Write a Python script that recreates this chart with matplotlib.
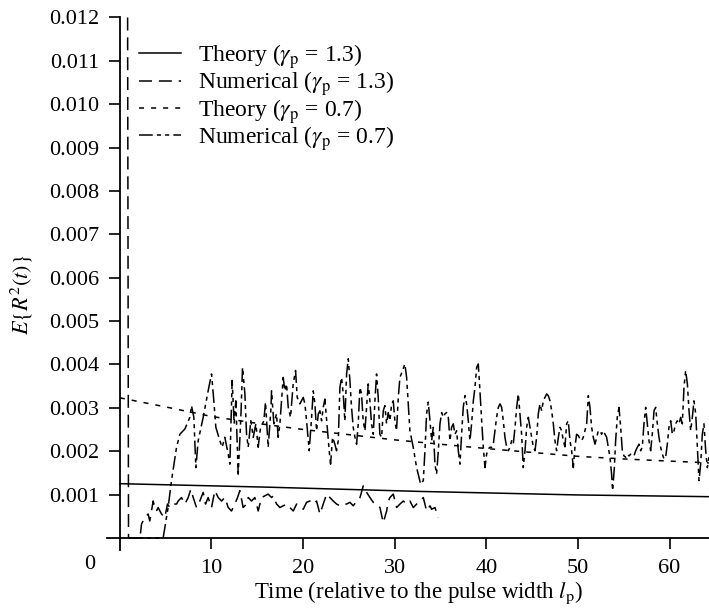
import numpy as np
import matplotlib
matplotlib.use("Agg")
import matplotlib.pyplot as plt

plt.rcParams['font.family'] = ['Liberation Serif', 'DejaVu Serif']
plt.rcParams['mathtext.fontset'] = 'stix'

# values are in units of 0.001

# Theory, gamma_p = 1.3 (solid)
theory13_t = [0, 16, 33, 50, 64.3]
theory13_v = [1.25, 1.17, 1.07, 0.99, 0.95]

# Theory, gamma_p = 0.7 (short dashes)
theory07_t = [0, 5, 10, 15, 20, 25, 30, 35, 40, 45, 50, 55, 60, 64.3]
theory07_v = [3.23, 3.02, 2.80, 2.64, 2.50, 2.38, 2.26, 2.16, 2.06, 1.97, 1.88, 1.82, 1.77, 1.73]

# Numerical, gamma_p = 1.3 (long dashes)
num13_t = [0.85, 0.95, 2.2, 2.37, 2.73, 3.09, 3.27, 3.64, 3.82, 4.00, 4.18, 4.55, 4.91,
           5.20, 5.46, 5.82, 6.19, 6.37, 6.73, 7.10, 7.46, 7.75, 8.01, 8.37, 8.73,
           9.10, 9.35, 9.64, 10.01, 10.37, 10.74, 11.10, 11.46, 11.83, 12.19, 12.55,
           12.85, 13.10, 13.46, 13.83, 14.01, 14.37, 14.74, 15.10, 15.47, 15.83, 16.19,
           16.56, 16.74, 17.11, 17.47, 17.84, 18.20, 18.56, 18.93, 19.29, 19.66, 20.02,
           20.38, 20.75, 21.11, 21.47, 21.84, 22.20, 22.57, 22.93, 23.29, 23.66, 24.02,
           24.39, 24.75, 25.11, 25.48, 25.84, 26.21, 26.57, 26.93, 27.30, 27.66, 28.02,
           28.39, 28.75, 29.12, 29.30, 29.48, 29.84, 30.21, 30.57, 30.94, 31.30, 31.66,
           32.03, 32.39, 32.76, 33.12, 33.48, 33.85, 34.03, 34.39, 34.76]
num13_v = [12.0, 0.0, 0.0, 0.32, 0.47, 0.55, 0.39, 0.85, 0.70, 0.62, 0.70, 0.55, 0.47,
           0.78, 0.70, 0.78, 0.78, 0.85, 0.93, 0.78, 0.93, 1.12, 0.93, 0.70, 0.85,
           1.05, 0.78, 0.93, 0.70, 1.09, 0.93, 0.85, 0.93, 0.70, 0.62, 0.78,
           0.93, 1.09, 0.70, 0.78, 0.93, 0.85, 0.93, 0.62, 0.93, 0.97, 1.01,
           0.93, 0.97, 0.78, 0.70, 0.74, 0.78, 0.70, 0.62, 0.78, 0.74, 0.66,
           0.82, 0.85, 0.78, 0.85, 0.55, 0.78, 1.01, 0.93, 0.85, 0.78, 0.74,
           0.78, 0.78, 0.82, 0.74, 0.85, 0.93, 1.20, 1.05, 0.93, 0.82, 0.78,
           0.70, 0.35, 0.62, 0.85, 0.93, 1.01, 0.70, 0.78, 0.85, 0.78, 0.85,
           0.70, 0.78, 0.85, 0.93, 0.62, 0.74, 0.66, 0.70, 0.47]

# Numerical, gamma_p = 0.7 (dash-dot)
num07_t = [1.0, 4.73, 5.27, 5.64, 6.19, 6.55, 7.10, 7.64, 7.82, 8.08, 8.30, 8.55, 9.10,
           9.64, 10.01, 10.26, 10.48, 10.92, 11.17, 11.46, 11.83, 12.01, 12.26, 12.48,
           12.66, 12.92, 13.21, 13.39, 13.65, 13.83, 14.01, 14.30, 14.56, 14.85, 15.10,
           15.36, 15.72, 15.90, 16.19, 16.48,
           16.56, 16.81, 17.10, 17.28, 17.47, 17.83, 18.01, 18.20, 18.38, 18.63, 18.92,
           19.18, 19.36, 19.65, 20.02, 20.20, 20.38, 20.67, 20.93, 21.11, 21.29, 21.47,
           21.66, 21.84, 22.02, 22.20, 22.38, 22.64, 22.85, 23.00, 23.22, 23.47, 23.65,
           23.84, 24.02, 24.20, 24.38, 24.56, 24.75, 24.93, 25.11, 25.29, 25.47, 25.66,
           25.84, 26.02, 26.20, 26.38, 26.56, 26.75, 26.93, 27.11, 27.29, 27.47, 27.66,
           27.84, 28.02, 28.20, 28.38, 28.57, 28.75, 28.93, 29.11, 29.29, 29.48, 29.66,
           29.84, 30.02, 30.20, 30.39, 30.57, 30.86, 31.11, 31.30, 31.48, 31.66, 32.02,
           32.39, 32.83, 33.12, 33.30,
           33.48, 33.66, 33.85, 34.03, 34.21, 34.39, 34.57, 34.76, 34.94, 35.12, 35.30,
           35.48, 35.67, 35.85, 36.03, 36.21, 36.39, 36.58, 36.76, 36.94, 37.12, 37.30,
           37.48, 37.67, 37.85, 38.03, 38.21, 38.39, 38.58, 38.76, 38.94, 39.12, 39.30,
           39.49, 39.67, 39.85, 40.03, 40.21, 40.40, 40.58, 40.76, 40.94, 41.12, 41.31,
           41.49, 41.67, 41.85, 42.03, 42.22, 42.40, 42.58, 42.76, 42.94, 43.13, 43.31,
           43.49, 43.67, 43.85, 44.03, 44.22, 44.40, 44.58, 44.76, 44.94, 45.13, 45.31,
           45.49, 45.67, 45.85, 46.04, 46.22, 46.40, 46.58, 46.76, 46.95, 47.13, 47.31,
           47.49, 47.67, 47.86, 48.04, 48.22, 48.40, 48.58,
           48.76, 48.94, 49.13, 49.31, 49.49, 49.67, 49.85, 50.04, 50.22, 50.40, 50.58,
           50.76, 50.95, 51.13, 51.31, 51.49, 51.67, 51.86, 52.04, 52.22, 52.40, 52.58,
           52.77, 52.95, 53.13, 53.31, 53.49, 53.67, 53.78, 53.97, 54.11, 54.29, 54.48,
           54.66, 54.84, 55.02, 55.20, 55.39, 55.57, 55.75, 55.93, 56.11, 56.30, 56.48,
           56.66, 56.84, 57.02, 57.20, 57.39, 57.57, 57.75, 57.93, 58.11, 58.30, 58.48,
           58.66, 58.84, 59.02, 59.21, 59.39, 59.57, 59.75, 59.93, 60.12, 60.30, 60.48,
           60.66, 60.84, 61.03, 61.21, 61.39, 61.57, 61.75, 61.94, 62.12, 62.30, 62.48,
           62.66, 62.85, 63.03, 63.21, 63.39, 63.57, 63.75, 63.94, 64.12, 64.30]
num07_v = [0.0, 0.0, 0.70, 1.32, 2.09, 2.39, 2.51, 2.78, 3.05, 2.78, 1.62, 2.24, 2.78,
           3.39, 3.78, 3.16, 2.55, 2.24, 2.09, 2.32, 1.93, 1.70, 3.63, 2.63,
           3.16, 1.47, 2.78, 3.93, 3.32, 2.39, 2.09, 2.70, 2.32, 2.63, 2.09,
           2.55, 2.70, 3.13, 2.09, 2.93,
           3.39, 2.63, 2.86, 2.32, 2.63, 3.70, 3.39, 3.55, 3.01, 2.78, 3.55,
           3.86, 3.24, 3.09, 3.24, 3.09, 2.70, 2.01, 2.78, 3.39, 3.09, 2.47,
           2.86, 2.93, 2.70, 3.01, 3.20, 2.55, 2.01, 1.70, 2.32, 2.16, 2.01,
           2.24, 3.47, 3.70, 3.32, 2.70, 3.78, 4.13, 3.63, 3.01, 2.55, 2.32,
           2.16, 2.63, 3.47, 3.32, 2.70, 2.47, 3.01, 3.55, 3.16, 2.63, 2.39,
           3.16, 3.78, 3.24, 2.39, 2.32, 2.93, 3.05, 2.63, 2.89, 2.70, 3.09,
           3.16, 2.70, 2.47, 3.24, 3.70, 3.86, 4.01, 3.70, 3.09, 2.47, 2.09,
           1.62, 1.24, 1.32, 2.01,
           2.86, 3.13, 2.70, 2.24, 2.55, 1.70, 1.47, 2.01, 2.63, 2.89, 2.78,
           2.86, 2.89, 2.78, 2.24, 2.55, 2.63, 2.39, 2.47, 2.01, 1.70, 2.39,
           3.01, 3.28, 3.09, 2.70, 2.24, 2.63, 3.16, 3.47, 3.93, 4.01, 3.40,
           2.70, 2.09, 1.62, 1.93, 2.05, 2.09, 2.09, 2.16, 2.47, 2.78, 3.01,
           3.09, 3.01, 2.70, 2.32, 2.09, 2.01, 2.09, 2.24, 2.16, 2.55, 3.01,
           3.32, 2.86, 2.39, 1.62, 2.01, 2.55, 2.78, 2.55, 2.32, 2.09, 2.01,
           2.32, 2.86, 3.09, 2.93, 3.16, 3.24, 3.32, 3.28, 3.16, 2.93, 2.63,
           2.24, 2.01, 2.32, 2.55, 2.47, 2.24, 2.10,
           2.63, 2.70, 2.24, 2.01, 1.62, 2.09, 2.39, 2.36, 2.28, 2.24, 2.32,
           2.47, 2.63, 3.28, 3.01, 2.55, 2.32, 2.16, 2.32, 2.47, 2.47, 2.39,
           2.47, 2.39, 2.32, 2.09, 1.86, 1.47, 1.09, 1.62, 2.24, 2.78, 3.01,
           2.55, 2.01, 1.89, 1.86, 1.93, 1.89, 1.93, 1.89, 1.89, 2.01, 2.09,
           2.16, 2.01, 2.09, 2.63, 3.01, 2.63, 2.24, 2.01, 2.39, 2.93, 3.01,
           2.63, 2.32, 2.09, 1.93, 1.82, 1.86, 2.16, 2.55, 2.70, 2.39, 2.47,
           2.63, 2.70, 2.63, 2.78, 2.63, 3.47, 3.86, 3.55, 2.93, 2.47, 2.78,
           3.16, 2.86, 2.09, 1.32, 1.70, 2.39, 2.63, 2.01, 1.62, 1.86]

yticks = [0.001, 0.002, 0.003, 0.004, 0.005, 0.006, 0.007, 0.008, 0.009, 0.010, 0.011, 0.012]
xticks = [10, 20, 30, 40, 50, 60]

labels = [r'Theory ($\gamma_{\rm p}$ = 1.3)', r'Numerical ($\gamma_{\rm p}$ = 1.3)',
          r'Theory ($\gamma_{\rm p}$ = 0.7)', r'Numerical ($\gamma_{\rm p}$ = 0.7)']

fig = plt.figure(figsize=(7.09, 6.11), dpi=100)
ax = fig.add_axes([0.1509, 0.0998, 0.8491, 0.8716])

lw = 1.1
scale = 1e-3
ax.plot(theory13_t, np.array(theory13_v) * scale, color='k', lw=lw, ls='-', label=labels[0])
ax.plot(num13_t, np.array(num13_v) * scale, color='k', lw=lw, ls=(0, (8.5, 4.5)), label=labels[1])
ax.plot(theory07_t, np.array(theory07_v) * scale, color='k', lw=lw, ls=(0, (3.3, 4.6)), label=labels[2])
ax.plot(num07_t, np.array(num07_v) * scale, color='k', lw=lw, ls=(0, (9, 2.7, 2.7, 2.7, 2.7, 2.7)), label=labels[3])

ax.set_xlim(-1.4, 64.3)
ax.set_ylim(-0.00028, 0.012)

for s in ['top', 'right']:
    ax.spines[s].set_visible(False)
ax.spines['left'].set_position(('data', 0))
ax.spines['bottom'].set_position(('data', 0))
ax.spines['left'].set_linewidth(1.3)
ax.spines['bottom'].set_linewidth(1.3)

ax.set_yticks(yticks)
ax.set_yticklabels(['%.3f' % v for v in yticks])
ax.set_xticks(xticks)
ax.set_xticklabels([str(v) for v in xticks])
ax.tick_params(axis='both', direction='out', length=8, width=1.2, labelsize=16, pad=7)

# the shared origin label sits left of the y axis
ax.text(-3.3, -0.00062, '0', fontsize=16, ha='center', va='center')

ax.set_xlabel(r'Time (relative to the pulse width $l_{\rm p}$)', fontsize=16.5, labelpad=1)
ax.xaxis.label.set_position((0.518, 0))
ax.set_ylabel(r'$E\{R^2(t)\}$', fontsize=16, labelpad=10)
ax.yaxis.label.set_position((0, 0.48))

ax.legend(loc='upper left', bbox_to_anchor=(139 / 709, 1 - 42 / 611), bbox_transform=fig.transFigure,
          frameon=False, fontsize=17, handlelength=1.78, handletextpad=0.72, labelspacing=-0.06,
          borderpad=0, borderaxespad=0)

fig.savefig('out.png', dpi=100)
